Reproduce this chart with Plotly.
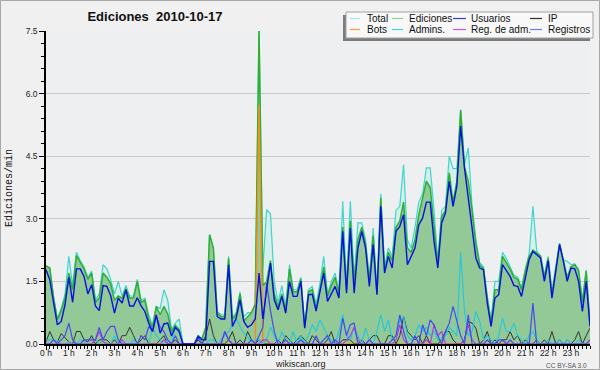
import plotly.graph_objects as go

# ---------------- data (10-minute slots, 144 per day) ----------------
hour_labels = [f"{h} h" for h in range(24)]
slots = [i / 6 for i in range(144)]  # time of day in hours

total = [
    1.87, 1.82, 1.12, 0.60, 0.85, 1.20,
    2.10, 1.40, 2.20, 2.00, 1.85, 1.60,
    1.75, 1.05, 1.20, 1.90, 1.80, 1.55,
    1.20, 1.50, 1.15, 1.40, 1.15, 1.15,
    1.55, 1.05, 1.10, 0.70, 0.45, 0.90,
    0.85, 1.30, 1.05, 0.35, 0.50, 0.60,
    0.00, 0.00, 0.00, 0.00, 0.20, 0.12,
    0.40, 2.62, 2.30, 0.78, 0.70, 0.70,
    2.10, 0.65, 0.75, 1.25, 0.65, 0.75,
    0.75, 0.95, 7.50, 1.80, 3.22, 3.12,
    1.50, 1.00, 1.40, 0.90, 1.90, 1.30,
    1.30, 1.60, 0.45, 1.30, 1.38, 0.95,
    1.45, 2.10, 1.20, 1.50, 1.70, 1.25,
    3.42, 1.40, 3.42, 1.60, 2.90, 2.90,
    2.50, 1.60, 2.78, 1.25, 3.60, 1.85,
    2.30, 2.10, 3.20, 3.30, 4.30, 2.50,
    2.30, 2.80, 3.40, 3.60, 4.22, 4.22,
    3.20, 2.00, 3.20, 3.30, 4.50, 4.20,
    4.20, 5.62, 4.30, 4.70, 3.30, 2.50,
    1.95, 1.85, 1.15, 0.55, 1.50, 1.50,
    2.20, 2.05, 1.85, 1.65, 1.60, 1.35,
    1.80, 2.15, 3.30, 2.22, 2.12, 1.65,
    2.10, 1.25, 1.85, 2.42, 2.02, 1.98,
    1.90, 1.92, 1.80, 1.05, 1.78, 0.50,
]

ediciones = [
    1.87, 1.82, 1.10, 0.58, 0.80, 1.10,
    1.70, 1.30, 2.12, 1.95, 1.80, 1.55,
    1.70, 1.00, 1.10, 1.70, 1.60, 1.45,
    1.05, 1.15, 1.10, 1.32, 1.10, 1.10,
    1.50, 1.00, 1.05, 0.60, 0.40, 0.90,
    0.70, 0.90, 0.72, 0.30, 0.45, 0.35,
    0.00, 0.00, 0.00, 0.00, 0.20, 0.12,
    0.40, 2.62, 2.30, 0.75, 0.65, 0.65,
    2.05, 0.60, 0.70, 1.20, 0.55, 0.65,
    0.75, 0.95, 7.50, 1.40, 1.50, 2.00,
    1.20, 0.90, 1.20, 0.80, 1.80, 1.25,
    1.25, 1.55, 0.40, 1.25, 1.30, 0.85,
    1.30, 1.85, 1.15, 1.40, 1.60, 1.20,
    2.80, 1.30, 2.95, 1.45, 2.50, 2.80,
    2.40, 1.50, 2.60, 1.20, 3.50, 1.75,
    2.20, 2.00, 2.80, 2.95, 3.40, 2.30,
    2.20, 2.50, 3.10, 3.50, 3.90, 3.75,
    2.90, 1.90, 3.05, 3.20, 4.10, 3.40,
    3.90, 5.60, 4.25, 3.90, 3.20, 2.40,
    1.90, 1.80, 1.10, 0.50, 1.30, 1.30,
    2.10, 1.95, 1.80, 1.60, 1.55, 1.30,
    1.75, 2.10, 2.25, 2.18, 2.10, 1.60,
    2.05, 1.20, 1.80, 2.40, 2.00, 1.60,
    1.85, 1.90, 1.75, 1.00, 1.75, 0.45,
]

usuarios = [
    1.78, 1.54, 0.98, 0.46, 0.54, 0.94,
    1.60, 1.00, 1.80, 1.80, 1.62, 1.20,
    1.42, 0.91, 0.80, 1.40, 1.38, 1.16,
    0.74, 1.10, 0.98, 1.30, 0.91, 0.91,
    1.11, 0.91, 0.78, 0.50, 0.30, 0.70,
    0.26, 0.48, 0.50, 0.19, 0.40, 0.30,
    0.00, 0.00, 0.00, 0.00, 0.18, 0.10,
    0.10, 1.98, 1.98, 0.66, 0.60, 0.60,
    1.90, 0.42, 0.62, 1.06, 0.54, 0.40,
    0.46, 0.60, 1.70, 0.60, 1.30, 1.94,
    1.06, 0.82, 1.14, 0.74, 1.50, 1.14,
    1.14, 1.50, 0.38, 1.18, 1.19, 0.79,
    1.25, 1.70, 1.02, 1.22, 1.38, 1.10,
    2.70, 1.22, 2.78, 1.22, 2.30, 2.70,
    2.30, 1.38, 2.38, 1.18, 3.30, 1.70,
    2.10, 1.82, 2.70, 2.82, 3.10, 1.90,
    2.10, 2.30, 2.86, 3.02, 3.40, 3.40,
    2.46, 1.82, 2.90, 3.14, 3.90, 3.30,
    3.78, 5.22, 4.22, 3.50, 2.78, 2.06,
    1.82, 1.78, 0.98, 0.42, 1.10, 1.18,
    1.90, 1.75, 1.62, 1.40, 1.38, 1.14,
    1.62, 2.02, 2.22, 2.14, 2.06, 1.50,
    2.00, 1.10, 1.74, 2.38, 1.98, 1.50,
    1.82, 1.80, 1.50, 0.78, 1.50, 0.42,
]

ip = [
    0.05, 0.30, 0.10, 0.05, 0.25, 0.15,
    0.05, 0.00, 0.30, 0.30, 0.10, 0.05,
    0.20, 0.00, 0.10, 0.10, 0.10, 0.00,
    0.10, 0.00, 0.20, 0.20, 0.40, 0.20,
    0.00, 0.10, 0.20, 0.00, 0.00, 0.00,
    0.10, 0.20, 0.00, 0.00, 0.10, 0.00,
    0.00, 0.00, 0.00, 0.00, 0.10, 0.00,
    0.20, 0.60, 0.20, 0.00, 0.00, 0.00,
    0.10, 0.30, 0.00, 0.10, 0.00, 0.30,
    0.10, 0.00, 0.10, 0.00, 0.00, 0.00,
    0.00, 0.10, 0.00, 0.20, 0.10, 0.00,
    0.10, 0.20, 0.10, 0.00, 0.20, 0.10,
    0.00, 0.00, 0.10, 0.30, 0.00, 0.00,
    0.10, 0.10, 0.10, 0.00, 0.00, 0.10,
    0.00, 0.10, 0.20, 0.20, 0.00, 0.00,
    0.20, 0.20, 0.00, 0.20, 0.66, 0.30,
    0.20, 0.10, 0.20, 0.00, 0.20, 0.00,
    0.00, 0.00, 0.10, 0.30, 0.30, 0.10,
    0.00, 0.00, 0.10, 0.54, 0.50, 0.38,
    0.00, 0.10, 0.30, 0.00, 0.10, 0.00,
    0.10, 0.10, 0.30, 0.10, 0.20, 0.00,
    0.10, 0.00, 0.00, 0.10, 0.00, 0.10,
    0.00, 0.30, 0.00, 0.10, 0.00, 0.10,
    0.00, 0.10, 0.30, 0.00, 0.20, 0.38,
]

bots = [0.0] * 144
bots[56] = 5.72

admins = [
    0.10, 0.10, 0.10, 0.05, 0.00, 0.00,
    0.05, 0.00, 0.00, 0.10, 0.05, 0.00,
    0.00, 0.10, 0.00, 0.10, 0.00, 0.00,
    0.20, 0.00, 0.00, 0.00, 0.00, 0.10,
    0.00, 0.00, 0.00, 0.00, 0.40, 0.20,
    0.10, 0.00, 0.10, 0.00, 0.40, 0.30,
    0.00, 0.00, 0.00, 0.00, 0.00, 0.00,
    0.00, 0.10, 0.10, 0.00, 0.10, 0.20,
    0.30, 0.46, 0.60, 0.42, 0.26, 0.15,
    0.05, 0.10, 0.10, 0.00, 0.10, 0.40,
    0.20, 0.00, 0.30, 0.10, 0.00, 0.30,
    0.00, 0.20, 0.00, 0.20, 0.46, 0.30,
    0.58, 0.40, 0.20, 0.10, 0.00, 0.30,
    0.70, 0.20, 0.10, 0.40, 0.20, 0.00,
    0.38, 0.10, 0.00, 0.30, 0.70, 0.30,
    0.58, 0.10, 0.20, 0.54, 0.66, 0.20,
    0.10, 0.20, 0.46, 0.30, 0.40, 0.20,
    0.30, 0.10, 0.10, 0.20, 0.40, 0.30,
    0.20, 2.20, 0.80, 0.20, 0.30, 0.78,
    0.54, 0.10, 0.20, 0.10, 0.00, 0.20,
    0.62, 0.30, 0.30, 0.50, 0.20, 0.10,
    0.00, 0.20, 0.30, 0.10, 0.00, 0.00,
    0.10, 0.00, 0.00, 0.10, 0.00, 0.10,
    0.00, 0.00, 0.10, 0.00, 0.00, 0.10,
]

reg_adm = [
    0.00, 0.00, 0.00, 0.00, 0.00, 0.00,
    0.00, 0.00, 0.00, 0.00, 0.00, 0.00,
    0.00, 0.10, 0.30, 0.05, 0.00, 0.00,
    0.00, 0.00, 0.10, 0.00, 0.00, 0.00,
    0.00, 0.00, 0.00, 0.00, 0.00, 0.00,
    0.00, 0.10, 0.00, 0.00, 0.00, 0.00,
    0.00, 0.00, 0.00, 0.00, 0.00, 0.00,
    0.00, 0.00, 0.00, 0.00, 0.00, 0.30,
    0.10, 0.00, 0.00, 0.00, 0.00, 0.00,
    0.00, 0.00, 0.00, 0.10, 0.10, 0.00,
    0.00, 0.00, 0.00, 0.00, 0.00, 0.00,
    0.00, 0.00, 0.00, 0.00, 0.00, 0.00,
    0.00, 0.00, 0.00, 0.00, 0.00, 0.00,
    0.00, 0.10, 0.20, 0.40, 0.10, 0.00,
    0.00, 0.00, 0.00, 0.00, 0.00, 0.00,
    0.00, 0.00, 0.10, 0.46, 0.10, 0.00,
    0.00, 0.00, 0.00, 0.00, 0.10, 0.00,
    0.46, 0.20, 0.30, 0.00, 0.00, 0.00,
    0.00, 0.00, 0.10, 0.46, 0.10, 0.00,
    0.00, 0.00, 0.00, 0.00, 0.00, 0.00,
    0.00, 0.00, 0.00, 0.00, 0.00, 0.00,
    0.00, 0.00, 0.00, 0.00, 0.00, 0.00,
    0.00, 0.00, 0.00, 0.00, 0.00, 0.00,
    0.00, 0.00, 0.00, 0.00, 0.00, 0.00,
]

registros = [
    0.00, 0.00, 0.10, 0.00, 0.10, 0.20,
    0.50, 0.10, 0.00, 0.00, 0.10, 0.10,
    0.10, 0.10, 0.40, 0.10, 0.30, 0.42,
    0.42, 0.10, 0.00, 0.00, 0.00, 0.00,
    0.00, 0.20, 0.10, 0.42, 0.30, 0.66,
    0.40, 0.30, 0.10, 0.00, 0.20, 0.00,
    0.00, 0.00, 0.00, 0.00, 0.15, 0.00,
    0.00, 0.00, 0.00, 0.00, 0.00, 0.30,
    0.10, 0.00, 0.00, 0.00, 0.00, 0.00,
    0.10, 0.00, 0.20, 0.40, 1.46, 0.80,
    0.30, 0.00, 0.00, 0.10, 0.00, 0.00,
    0.00, 0.10, 0.00, 0.00, 0.00, 0.20,
    0.00, 0.10, 0.20, 0.00, 0.10, 0.00,
    0.62, 0.20, 0.46, 0.50, 0.00, 0.00,
    0.00, 0.10, 0.00, 0.00, 0.00, 0.00,
    0.00, 0.10, 0.20, 0.70, 0.30, 0.00,
    0.00, 0.20, 0.00, 0.46, 0.20, 0.58,
    0.46, 0.20, 0.00, 0.30, 0.50, 0.90,
    0.54, 0.20, 0.00, 0.70, 0.00, 0.00,
    0.00, 0.00, 0.10, 0.00, 0.00, 0.10,
    0.10, 0.00, 0.10, 0.00, 0.00, 0.00,
    0.00, 0.00, 0.98, 0.00, 0.00, 0.00,
    0.00, 0.00, 0.00, 0.00, 0.00, 0.00,
    0.00, 0.00, 0.00, 0.00, 0.00, 0.10,
]

legend_names = ["Total", "Ediciones", "Usuarios", "IP",
                "Bots", "Admins.", "Reg. de adm.", "Registros"]
legend_colors = ["#a8e8e0", "#90d090", "#3838e0", "#303030",
                 "#f0a040", "#40d0e0", "#d050e0", "#7878f0"]

# ---------------- geometry helpers (pixels -> paper) ----------------
W, H = 600, 370
ML, MR, MT, MB = 46, 10, 31, 26
PW, PH = W - ML - MR, H - MT - MB


def px(x):
    return (x - ML) / PW


def py(y):
    return (H - MB - y) / PH


fig = go.Figure()

fig.add_trace(go.Scatter(x=slots, y=total, mode="lines", fill="tozeroy",
                         fillcolor="#d6efeb", line=dict(color="#3ed6cc", width=1.2)))
fig.add_trace(go.Scatter(x=slots, y=ediciones, mode="lines", fill="tozeroy",
                         fillcolor="#93c996", line=dict(color="#2eae35", width=1.5)))
fig.add_trace(go.Scatter(x=slots, y=bots, mode="lines",
                         line=dict(color="#f0901e", width=1.5)))
fig.add_trace(go.Scatter(x=slots, y=ip, mode="lines",
                         line=dict(color="#333333", width=1)))
fig.add_trace(go.Scatter(x=slots, y=admins, mode="lines",
                         line=dict(color="#20c8e0", width=1.1)))
fig.add_trace(go.Scatter(x=slots, y=reg_adm, mode="lines",
                         line=dict(color="#c030e0", width=1.1)))
fig.add_trace(go.Scatter(x=slots, y=registros, mode="lines",
                         line=dict(color="#4848f0", width=1.2)))
fig.add_trace(go.Scatter(x=slots, y=usuarios, mode="lines",
                         line=dict(color="#0810e0", width=1.4)))

shapes = []
annotations = []

# outer border
shapes.append(dict(type="rect", xref="paper", yref="paper",
                   x0=px(0.5), x1=px(599.5), y0=py(0.5), y1=py(369.5),
                   line=dict(color="#a8a8a8", width=1), fillcolor="rgba(0,0,0,0)",
                   layer="above"))

# legend box with shadow
shapes.append(dict(type="rect", xref="paper", yref="paper",
                   x0=px(343), x1=px(590), y0=py(15), y1=py(41),
                   line=dict(width=0), fillcolor="#7c7c7c", layer="above"))
shapes.append(dict(type="rect", xref="paper", yref="paper",
                   x0=px(346), x1=px(593), y0=py(12), y1=py(38),
                   line=dict(color="#a0a0a0", width=1), fillcolor="#f8f8f8",
                   layer="above"))

col_line_x = [(350, 360), (392, 403), (453, 466), (530, 542)]
col_text_x = [365, 407, 469, 546]
row_y = [18.5, 29.5]
for k, (name, color) in enumerate(zip(legend_names, legend_colors)):
    r, c = divmod(k, 4)
    x0, x1 = col_line_x[c]
    shapes.append(dict(type="line", xref="paper", yref="paper",
                       x0=px(x0), x1=px(x1), y0=py(row_y[r]), y1=py(row_y[r]),
                       line=dict(color=color, width=1.2), layer="above"))
    annotations.append(dict(text=name, xref="paper", yref="paper",
                            x=px(col_text_x[c]), y=py(row_y[r]),
                            xanchor="left", yanchor="middle", showarrow=False,
                            font=dict(family="Liberation Sans", size=10, color="#111111")))

# y axis title (monospace, rotated)
annotations.append(dict(text="Ediciones/min", xref="paper", yref="paper",
                        x=px(9), y=py(188), textangle=-90, showarrow=False,
                        xanchor="center", yanchor="middle",
                        font=dict(family="Liberation Mono", size=10, color="#111111")))
# footer texts
annotations.append(dict(text="wikiscan.org", xref="paper", yref="paper",
                        x=px(300), y=py(364.5), showarrow=False,
                        xanchor="center", yanchor="middle",
                        font=dict(family="Liberation Sans", size=9, color="#222222")))
annotations.append(dict(text="CC BY-SA 3.0", xref="paper", yref="paper",
                        x=px(589), y=py(365), showarrow=False,
                        xanchor="right", yanchor="middle",
                        font=dict(family="Liberation Sans", size=6.5, color="#555555")))

fig.update_layout(
    width=W, height=H,
    margin=dict(l=ML, r=MR, t=MT, b=MB, pad=0),
    paper_bgcolor="#f0f0f0",
    plot_bgcolor="#edeff1",
    showlegend=False,
    title=dict(text="<b>Ediciones  2010-10-17</b>", x=155 / W, xanchor="center",
               y=1 - 16.5 / H, yanchor="middle",
               font=dict(family="Liberation Sans", size=13, color="#111111")),
    shapes=shapes,
    annotations=annotations,
    xaxis=dict(range=[0, 143 / 6], tickmode="array", tickvals=list(range(24)),
               ticktext=hour_labels, ticks="outside", ticklen=4, tickwidth=1,
               tickcolor="#000000", showgrid=False, zeroline=False,
               showline=True, linecolor="#000000", linewidth=2,
               ticklabelstandoff=-4,
               tickfont=dict(family="Liberation Sans", size=8.5, color="#222222"),
               minor=dict(tickmode="linear", tick0=0, dtick=1 / 6, ticks="outside",
                          ticklen=3, tickcolor="#000000", tickwidth=1, showgrid=False),
               fixedrange=True),
    yaxis=dict(range=[0, 7.5], tickmode="linear", tick0=0, dtick=1.5,
               tickformat=".1f", ticks="outside", ticklen=5, tickwidth=1,
               tickcolor="#000000", showgrid=True, gridcolor="#c8c8c8", gridwidth=1,
               zeroline=False, showline=True, linecolor="#000000", linewidth=1.5,
               tickfont=dict(family="Liberation Sans", size=8.5, color="#222222"),
               minor=dict(tickmode="linear", tick0=0, dtick=0.3, ticks="outside",
                          ticklen=3, tickcolor="#000000", tickwidth=1, showgrid=False),
               fixedrange=True),
)

fig.write_html(
    "out.html",
    config={"displayModeBar": False},
    post_script="document.body.style.margin='0';document.body.style.padding='0';",
)
